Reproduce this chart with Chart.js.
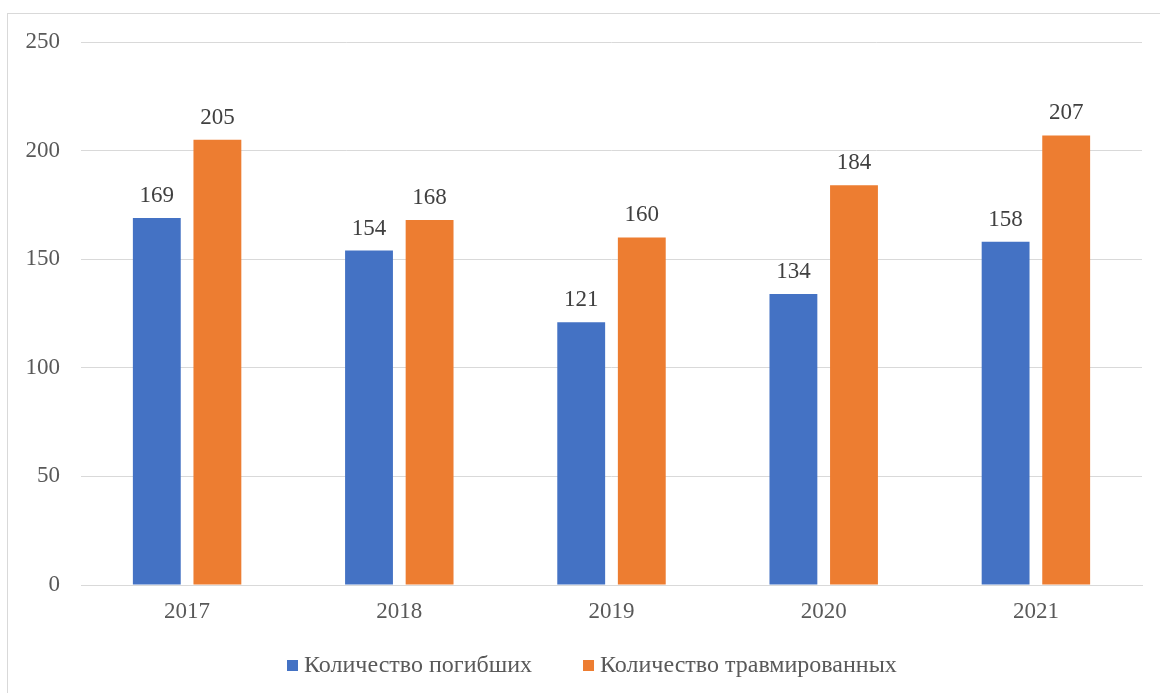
<!DOCTYPE html>
<html><head><meta charset="utf-8">
<script src="https://cdn.jsdelivr.net/npm/chart.js@4"></script>
<style>html,body{margin:0;padding:0;background:#fff}#wrap{width:1160px;height:693px;position:relative}</style>
</head><body><div id="wrap"><canvas id="c" width="1160" height="693"></canvas></div>
<script>
const categories = ['2017','2018','2019','2020','2021'];
const seriesNames = ['Количество погибших','Количество травмированных'];
const killed = [169,154,121,134,158];
const injured = [205,168,160,184,207];
const yTicks = [0,50,100,150,200,250];
const colors = ['#4472C4','#ED7D31'];

const FONT = "'Liberation Serif','Times New Roman',serif";

const frame = {
  id:'frame',
  beforeDraw(chart){
    const ctx = chart.ctx;
    ctx.save();
    ctx.fillStyle='#fff';ctx.fillRect(0,0,chart.width,chart.height);
    ctx.strokeStyle='#d9d9d9';ctx.lineWidth=1;
    ctx.strokeRect(7.5,13.5,1200,720);
    ctx.restore();
  }
};
const labels = {
  id:'labels',
  afterDatasetsDraw(chart){
    const ctx = chart.ctx;
    ctx.save();
    ctx.font = '23px '+FONT;
    ctx.fillStyle='#404040';
    ctx.textAlign='center';ctx.textBaseline='alphabetic';
    chart.data.datasets.forEach((ds,i)=>{
      chart.getDatasetMeta(i).data.forEach((bar,j)=>{
        ctx.fillText(String(ds.data[j]), bar.x, bar.y-16);
      });
    });
    ctx.restore();
  }
};
const legendPlugin = {
  id:'customLegend',
  afterDraw(chart){
    const ctx = chart.ctx;
    ctx.save();
    ctx.font = '24px '+FONT;
    ctx.textBaseline='middle';ctx.textAlign='left';
    const box=11, gapBT=6, gapItem=51;
    const items = chart.data.datasets.map(ds=>({label:ds.label,color:ds.backgroundColor,w:ctx.measureText(ds.label).width}));
    let total = 0;
    items.forEach((it,i)=>{ total += box+gapBT+it.w + (i<items.length-1?gapItem:0); });
    let x = Math.round(592 - total/2);
    const y = 665;
    items.forEach(it=>{
      ctx.fillStyle=it.color;
      ctx.fillRect(x, y-5, box, box);
      ctx.fillStyle='#595959';
      ctx.fillText(it.label, x+box+gapBT, y+1);
      x += box+gapBT+it.w+gapItem;
    });
    ctx.restore();
  }
};

new Chart(document.getElementById('c'),{
  type:'bar',
  data:{labels:categories,datasets:[
    {label:seriesNames[0],data:killed,backgroundColor:colors[0],categoryPercentage:0.571,barPercentage:0.79},
    {label:seriesNames[1],data:injured,backgroundColor:colors[1],categoryPercentage:0.571,barPercentage:0.79}
  ]},
  options:{
    responsive:false,animation:false,
    layout:{padding:{left:0,top:42,right:18,bottom:54}},
    plugins:{
      tooltip:{enabled:false},
      legend:{display:false}
    },
    scales:{
      x:{grid:{display:false},border:{color:'#d9d9d9',width:1},
        ticks:{font:{family:FONT,size:23},color:'#595959',padding:5},
        afterFit(s){s.height=54;}},
      y:{min:0,max:250,afterBuildTicks(s){s.ticks=yTicks.map(v=>({value:v}));},
        grid:{color:'#d9d9d9',drawTicks:false},border:{display:false},
        ticks:{font:{family:FONT,size:23},color:'#595959',padding:21},
        afterFit(s){s.width=81;}}
    }
  },
  plugins:[frame,labels,legendPlugin]
});
</script></body></html>
